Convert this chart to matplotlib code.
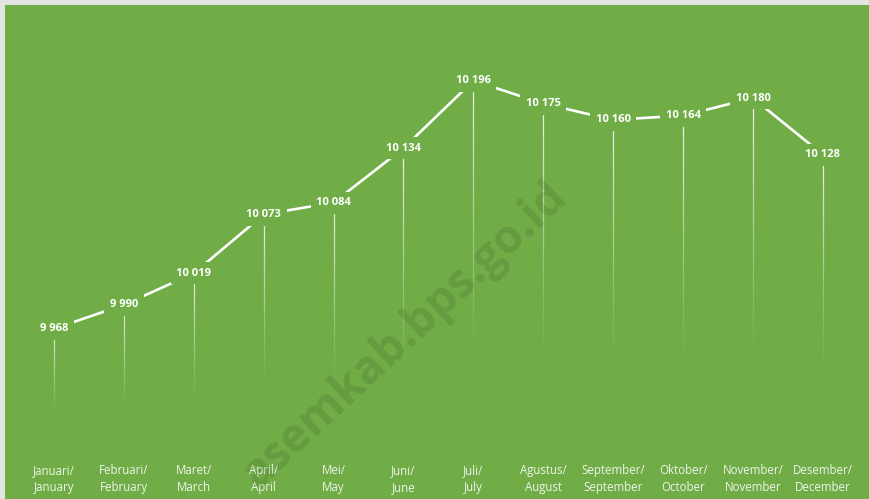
import numpy as np
from matplotlib import pyplot as plt
from matplotlib.collections import LineCollection

months_id = ['Januari', 'Februari', 'Maret', 'April', 'Mei', 'Juni',
             'Juli', 'Agustus', 'September', 'Oktober', 'November', 'Desember']
months_en = ['January', 'February', 'March', 'April', 'May', 'June',
             'July', 'August', 'September', 'October', 'November', 'December']
values = [9968, 9990, 10019, 10073, 10084, 10134,
          10196, 10175, 10160, 10164, 10180, 10128]

green = '#70ad47'
plt.rcParams['font.family'] = ['Open Sans', 'DejaVu Sans']

fig = plt.figure(figsize=(8.7, 4.99), dpi=100, facecolor='#e4e4e4')
bg = fig.add_axes([5 / 870, 0, 865 / 870, 494 / 499])
bg.set_facecolor(green)
bg.set_xticks([])
bg.set_yticks([])
for s in bg.spines.values():
    s.set_visible(False)

ax = fig.add_axes([0, 0, 1, 1])
ax.patch.set_alpha(0)
ax.axis('off')
x = np.arange(len(values))
ax.set_xlim(-0.7725, 11.674)
ax.set_ylim(9811.5, 10270.2)

# drop lines fading downwards
base = 9866
n = 60
for xi, v in zip(x, values):
    ys = np.linspace(v, base, n + 1)
    segs = [[(xi, ys[k]), (xi, ys[k + 1])] for k in range(n)]
    t = np.linspace(0, 1, n)
    cols = [(1, 1, 1, 0.9 * max(0.0, 1 - tt / 0.78) ** 1.2) for tt in t]
    ax.add_collection(LineCollection(segs, colors=cols, linewidths=0.9, zorder=1))

ax.plot(x, values, color='white', lw=1.9, zorder=2, solid_capstyle='butt')

for xi, v in zip(x, values):
    lab = f'{v:,}'.replace(',', ' ')
    ax.text(xi, v, lab, ha='center', va='center', color='white', fontsize=8,
            fontweight='bold', zorder=3,
            bbox=dict(boxstyle='square,pad=0.5', fc=green, ec='none'))

for xi, a, b in zip(x, months_id, months_en):
    ax.text(xi, 9811.5 + (499 - 479) / 1.0877, f'{a}/\n{b}', ha='center', va='center',
            color='#eef4ea', fontsize=8.3, linespacing=1.4, zorder=3)

fig.text(405 / 870, 1 - 336 / 499, 'asemkab.bps.go.id', rotation=43, ha='center',
         va='center', rotation_mode='anchor', fontsize=33, fontweight='bold',
         color='black', alpha=0.1, zorder=0)

fig.savefig('out.png', dpi=100, facecolor=fig.get_facecolor())
